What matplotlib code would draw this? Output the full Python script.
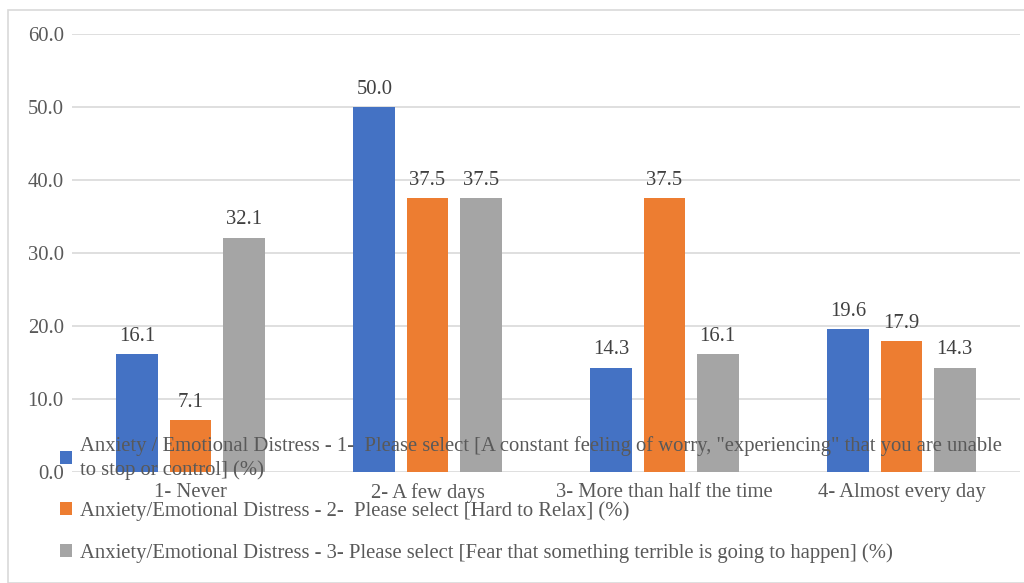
import numpy as np
import matplotlib.pyplot as plt
from matplotlib.patches import Rectangle

categories = ["1- Never", "2- A few days", "3- More than half the time", "4- Almost every day"]
worry = [16.1, 50.0, 14.3, 19.6]
relax = [7.1, 37.5, 37.5, 17.9]
fear = [32.1, 37.5, 16.1, 14.3]
series_names = [
    'Anxiety / Emotional Distress - 1-  Please select [A constant feeling of worry, "experiencing" that you are unable\nto stop or control] (%)',
    "Anxiety/Emotional Distress - 2-  Please select [Hard to Relax] (%)",
    "Anxiety/Emotional Distress - 3- Please select [Fear that something terrible is going to happen] (%)",
]
colors = ["#4472C4", "#ED7D31", "#A5A5A5"]

plt.rcParams["font.family"] = ["Liberation Serif", "DejaVu Serif"]
TXT = "#595959"
FS = 14.9

fig = plt.figure(figsize=(10.24, 5.83), dpi=100)
fig.patches.append(Rectangle((8 / 1024, 0), 1.2, 1 - 10 / 583, transform=fig.transFigure,
                             fill=False, edgecolor="#d9d9d9", linewidth=1.2))
ax = fig.add_axes([72 / 1024, 1 - 472 / 583, 948 / 1024, 438 / 583])

x = np.arange(len(categories))
step, width = 0.224, 0.177
bars = []
for i, (vals, c) in enumerate(zip([worry, relax, fear], colors)):
    b = ax.bar(x + (i - 1) * step, vals, width, color=c, zorder=3)
    ax.bar_label(b, labels=[f"{v:.1f}" for v in vals], padding=6, fontsize=FS, color="#404040")
    bars.append(b)

ax.set_xlim(-0.5, 3.5)
ax.set_ylim(0, 60)
ax.set_yticks(np.arange(0, 61, 10))
ax.set_yticklabels([f"{v:.1f}" for v in np.arange(0, 61, 10)])
ax.set_xticks(x)
ax.set_xticklabels(categories)
ax.tick_params(length=0, labelsize=FS, labelcolor=TXT, pad=8)
ax.tick_params(axis="y", pad=6)
ax.grid(axis="y", color="#d9d9d9", linewidth=1.2, zorder=0)
for s in ax.spines.values():
    s.set_visible(False)

leg = fig.legend(bars, series_names, loc="upper left", bbox_to_anchor=(60 / 1024, 1 - 436 / 583),
                 frameon=False, fontsize=FS, labelcolor=TXT, handlelength=0.58, handleheight=0.58,
                 handletextpad=0.4, labelspacing=1.05, borderaxespad=0, borderpad=0)
for t in leg.get_texts():
    t.set_linespacing(1.28)

fig.savefig("out.png", dpi=100)
